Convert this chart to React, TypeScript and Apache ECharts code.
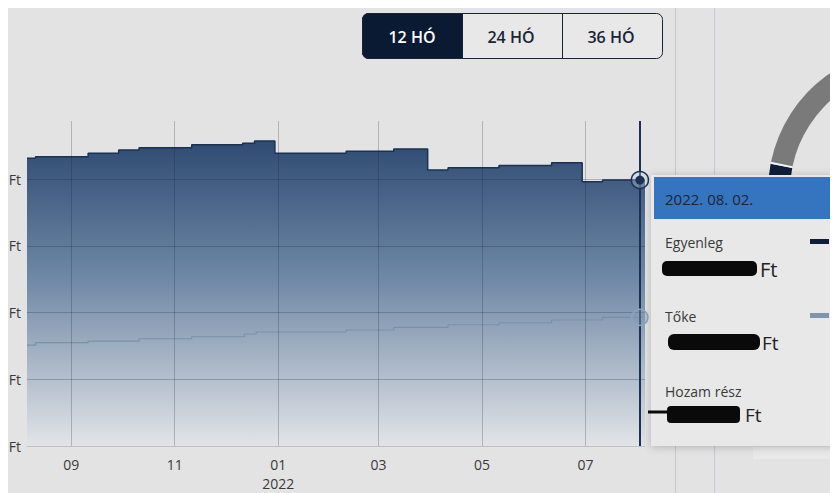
import React, { useEffect, useRef } from "react";
import * as echarts from "echarts";

// ---- data ----
const balanceDates = [
  "2021-08-06", "2021-08-11", "2021-09-11", "2021-09-29", "2021-10-11", "2021-11-11",
  "2021-12-11", "2021-12-18", "2021-12-30", "2022-02-10", "2022-03-10", "2022-03-30",
  "2022-04-11", "2022-05-11", "2022-06-11", "2022-06-29", "2022-07-11", "2022-08-05",
];
const balanceValues = [
  4310000, 4334000, 4385000, 4434000, 4469000, 4514000,
  4535000, 4569000, 4385000, 4415000, 4449000, 4135000,
  4169000, 4205000, 4244000, 3960000, 3985000, 3985000,
];
const capitalDates = [
  "2021-08-06", "2021-08-11", "2021-09-11", "2021-10-11", "2021-11-11", "2021-12-12",
  "2021-12-19", "2022-02-10", "2022-03-10", "2022-04-11", "2022-05-11", "2022-06-11",
  "2022-07-11", "2022-08-05",
];
const capitalValues = [
  1513000, 1548000, 1573000, 1607000, 1637000, 1678000,
  1708000, 1738000, 1778000, 1817000, 1847000, 1888000,
  1928000, 1928000,
];
const xTickDates = ["2021-09-01", "2021-11-01", "2022-01-01", "2022-03-01", "2022-05-01", "2022-07-01"];
const axisStart = "2021-08-06";
const axisEnd = "2022-08-05";
const crosshairDate = "2022-08-02";
const crosshairLabel = "2022. 08. 02.";
const buttonLabels = ["12 HÓ", "24 HÓ", "36 HÓ"];
const tooltipNames = ["Egyenleg", "Tőke", "Hozam rész"];
const gaugeValues = [11, 0.8, 168.2, 180];
const gaugeColors = ["#0f1e38", "#f4f4f4", "#7a7a7a", "rgba(0,0,0,0)"];

const ts = (s: string) => {
  const [y, m, d] = s.split("-").map(Number);
  return Date.UTC(y, m - 1, d);
};

const FONT = "'Open Sans', 'Noto Sans', sans-serif";

export default function App() {
  const ref = useRef<HTMLDivElement>(null);

  useEffect(() => {
    document.documentElement.style.overflow = "hidden";
    if (!ref.current) return;
    const chart = echarts.init(ref.current, undefined, { renderer: "svg" });

    const balanceData = balanceDates.map((d, i) => [ts(d), balanceValues[i]]);
    const capitalData = capitalDates.map((d, i) => [ts(d), capitalValues[i]]);
    const cx = ts(crosshairDate);
    const valueAt = (dates: string[], vals: number[], t: number) => {
      let v = vals[0];
      dates.forEach((d, i) => {
        if (ts(d) <= t) v = vals[i];
      });
      return v;
    };
    const balAtCross = valueAt(balanceDates, balanceValues, cx);
    const capAtCross = valueAt(capitalDates, capitalValues, cx);

    const navy = "#1b3254";
    const gridColor = "rgba(20,30,45,0.24)";

    const txt = (text: string, x: number, y: number, size: number, fill: string, extra: any = {}) => ({
      type: "text",
      z: 20,
      silent: true,
      style: {
        text,
        x,
        y,
        fill,
        fontSize: size,
        fontFamily: FONT,
        textVerticalAlign: "middle",
        ...extra,
      },
    });

    const option: any = {
      animation: false,
      textStyle: { fontFamily: FONT },
      grid: { left: 19, right: 193, top: 113, bottom: 47, containLabel: false, outerBoundsMode: "none" },
      xAxis: {
        type: "value",
        min: ts(axisStart),
        max: ts(axisEnd),
        z: 3,
        axisLine: { show: true, lineStyle: { color: "#bcc1c7", width: 1 } },
        axisTick: { show: false, customValues: xTickDates.map(ts) },
        splitLine: { show: false },
        axisLabel: {
          customValues: xTickDates.map(ts),
          color: "#3a3a3a",
          fontSize: 14,
          fontFamily: FONT,
          margin: 9,
          lineHeight: 19,
          formatter: (v: number) => {
            const d = new Date(v);
            const m = String(d.getUTCMonth() + 1).padStart(2, "0");
            return d.getUTCMonth() === 0 ? m + "\n" + d.getUTCFullYear() : m;
          },
        },
      },
      yAxis: {
        type: "value",
        min: 0,
        max: 4870000,
        interval: 1000000,
        z: 3,
        axisLine: { show: false },
        axisTick: { show: false },
        splitLine: { show: true, showMaxLine: false, lineStyle: { color: gridColor, width: 1 } },
        axisLabel: {
          formatter: () => "Ft",
          showMaxLabel: false,
          color: "#3a3a3a",
          fontSize: 14,
          fontFamily: FONT,
          margin: 6,
        },
      },
      series: [
        {
          name: "Egyenleg",
          type: "line",
          step: "end",
          data: balanceData,
          symbol: "none",
          z: 2,
          lineStyle: { color: navy, width: 1.5 },
          areaStyle: {
            opacity: 1,
            color: new echarts.graphic.LinearGradient(0, 0, 0, 1, [
              { offset: 0, color: "#2f4b72" },
              { offset: 0.45, color: "#6f88a6" },
              { offset: 1, color: "#e2e4e7" },
            ]),
          },
          markLine: {
            silent: true,
            symbol: "none",
            label: { show: false },
            emphasis: { disabled: true },
            data: [
              ...xTickDates.map((d) => ({
                xAxis: ts(d),
                lineStyle: { color: gridColor, width: 1, type: "solid" },
              })),
              { xAxis: cx, lineStyle: { color: navy, width: 2, type: "solid" } },
            ],
          },
          markPoint: {
            silent: true,
            symbol: "circle",
            label: { show: false },
            data: [
              {
                coord: [cx, balAtCross],
                symbolSize: 17,
                itemStyle: { color: "rgba(190,205,220,0.35)", borderColor: navy, borderWidth: 1.5 },
              },
              { coord: [cx, balAtCross], symbolSize: 9, itemStyle: { color: navy } },
            ],
          },
        },
        {
          name: "Tőke",
          type: "line",
          step: "end",
          data: capitalData,
          symbol: "none",
          z: 2,
          lineStyle: { color: "#7891ab", width: 1.2 },
          markPoint: {
            silent: true,
            symbol: "circle",
            label: { show: false },
            data: [
              {
                coord: [cx, capAtCross],
                symbolSize: 16,
                itemStyle: {
                  color: "rgba(130,155,182,0.45)",
                  borderColor: "#8ea4bb",
                  borderWidth: 1.5,
                },
              },
            ],
          },
        },
        {
          type: "pie",
          center: [903, 183],
          radius: [121, 143],
          startAngle: 180,
          clockwise: true,
          silent: true,
          z: 1,
          label: { show: false },
          labelLine: { show: false },
          emphasis: { disabled: true },
          data: gaugeValues.map((v, i) => ({ value: v, itemStyle: { color: gaugeColors[i] } })),
        },
      ],
      graphic: [
        // background separators
        { type: "line", z: 1, silent: true, shape: { x1: 667.5, y1: 0, x2: 667.5, y2: 485 }, style: { stroke: "#c8c8c8", lineWidth: 1 } },
        { type: "line", z: 1, silent: true, shape: { x1: 706.5, y1: 0, x2: 706.5, y2: 485 }, style: { stroke: "#c2cbd5", lineWidth: 1 } },
        { type: "rect", z: 1, silent: true, shape: { x: 745, y: 439, width: 85, height: 12 }, style: { fill: "#e9e9e9" } },
        // buttons
        { type: "rect", z: 15, silent: true, shape: { x: 354.5, y: 5.5, width: 300, height: 45, r: 6 }, style: { fill: "#e8e8e8", stroke: "#16243c", lineWidth: 1 } },
        { type: "rect", z: 16, silent: true, shape: { x: 354.5, y: 5.5, width: 100, height: 45, r: [6, 0, 0, 6] }, style: { fill: "#0b1a33", stroke: "#16243c", lineWidth: 1 } },
        { type: "line", z: 16, silent: true, shape: { x1: 554.5, y1: 5.5, x2: 554.5, y2: 50.5 }, style: { stroke: "#16243c", lineWidth: 1 } },
        txt(buttonLabels[0], 404, 29, 16, "#ffffff", { textAlign: "center", fontWeight: 600 }),
        txt(buttonLabels[1], 503, 29, 16, "#1a2535", { textAlign: "center", fontWeight: 600 }),
        txt(buttonLabels[2], 603, 29, 16, "#1a2535", { textAlign: "center", fontWeight: 600 }),
        // tooltip
        {
          type: "rect",
          z: 18,
          silent: true,
          shape: { x: 643, y: 167, width: 200, height: 271 },
          style: { fill: "#e8e8e8", shadowBlur: 8, shadowColor: "rgba(0,0,0,0.22)", shadowOffsetX: 0, shadowOffsetY: 1 },
        },
        { type: "rect", z: 19, silent: true, shape: { x: 646, y: 169, width: 190, height: 42 }, style: { fill: "#3574bf" } },
        txt(crosshairLabel, 657, 191, 15, "#1b2638"),
        txt(tooltipNames[0], 657, 234.5, 14, "#3a3a3a"),
        { type: "rect", z: 20, silent: true, shape: { x: 802, y: 231, width: 19, height: 5 }, style: { fill: "#0f1e38" } },
        { type: "rect", z: 20, silent: true, shape: { x: 654, y: 253, width: 95, height: 15, r: 5 }, style: { fill: "#0a0a0a" } },
        txt("Ft", 752, 261, 20, "#222222"),
        txt(tooltipNames[1], 657, 308.5, 14, "#3a3a3a"),
        { type: "rect", z: 20, silent: true, shape: { x: 802, y: 305, width: 19, height: 5 }, style: { fill: "#7f95ac" } },
        { type: "rect", z: 20, silent: true, shape: { x: 660, y: 326, width: 92, height: 16, r: 6 }, style: { fill: "#0a0a0a" } },
        txt("Ft", 754, 335, 19, "#222222"),
        txt(tooltipNames[2], 657, 383, 14, "#3a3a3a"),
        { type: "rect", z: 20, silent: true, shape: { x: 659, y: 398, width: 73, height: 17, r: 4 }, style: { fill: "#0a0a0a" } },
        { type: "line", z: 20, silent: true, shape: { x1: 640, y1: 404, x2: 660, y2: 404 }, style: { stroke: "#0a0a0a", lineWidth: 3 } },
        txt("Ft", 737, 407, 19, "#222222"),
      ],
    };

    chart.setOption(option);
    return () => chart.dispose();
  }, []);

  return (
    <div
      ref={ref}
      style={{ width: 830, height: 485, background: "#e3e3e3", overflow: "hidden" }}
    />
  );
}
